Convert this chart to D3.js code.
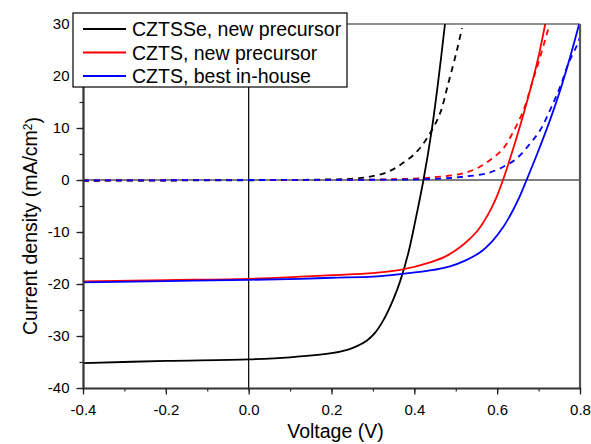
<!DOCTYPE html>
<html>
<head>
<meta charset="utf-8">
<script src="https://d3js.org/d3.v7.min.js"></script>
<style>
  body { margin: 0; background: #fff; }
  svg { display: block; font-family: "Liberation Sans", Arial, sans-serif; }
</style>
</head>
<body>
<svg id="chart" width="591" height="444"></svg>
<script>
// x ticks / y ticks
var xTicks = [-0.4, -0.2, 0.0, 0.2, 0.4, 0.6, 0.8];
var yTicks = [-40, -30, -20, -10, 0, 10, 20, 30];

// CZTSSe, new precursor (light = solid, dark = dashed)
var cztsseLightV = [-0.4, -0.2, 0, 0.1, 0.2, 0.24, 0.26, 0.285, 0.305, 0.325, 0.35, 0.366, 0.385, 0.402, 0.422, 0.442, 0.458, 0.474];
var cztsseLightJ = [-35.2, -34.8, -34.5, -34.1, -33.3, -32.6, -32.0, -30.9, -29.4, -27.0, -22.8, -19.4, -14.2, -8.0, 0, 9.6, 19.2, 30];
var cztsseDarkV = [-0.4, -0.2, 0, 0.1, 0.2, 0.253, 0.293, 0.334, 0.366, 0.406, 0.438, 0.462, 0.482, 0.503, 0.515];
var cztsseDarkJ = [-0.15, -0.1, -0.05, 0, 0.12, 0.25, 0.64, 1.5, 2.9, 5.45, 9.0, 12.8, 18.6, 25.0, 29.2];

// CZTS, new precursor
var cztsNewLightV = [-0.4, -0.2, 0, 0.124, 0.2, 0.3, 0.366, 0.44, 0.48, 0.52, 0.55, 0.567, 0.585, 0.6, 0.614, 0.631, 0.656, 0.68, 0.7, 0.716];
var cztsNewLightJ = [-19.5, -19.25, -19.0, -18.6, -18.3, -17.9, -17.3, -15.8, -14.5, -12.3, -10.0, -8.1, -5.6, -3.0, 0, 4.1, 10.6, 17.4, 23.8, 30];
var cztsNewDarkV = [-0.4, -0.2, 0, 0.2, 0.35, 0.42, 0.462, 0.511, 0.551, 0.583, 0.615, 0.639, 0.664, 0.684, 0.704, 0.726];
var cztsNewDarkJ = [-0.1, -0.05, 0, 0.02, 0.15, 0.35, 0.64, 1.15, 2.24, 3.85, 6.1, 9.3, 13.5, 18.6, 23.7, 29.8];

// CZTS, best in-house
var cztsBestLightV = [-0.4, -0.2, 0, 0.124, 0.2, 0.3, 0.366, 0.438, 0.486, 0.52, 0.559, 0.59, 0.615, 0.635, 0.652, 0.671, 0.696, 0.728, 0.752, 0.776, 0.798];
var cztsBestLightJ = [-19.7, -19.45, -19.2, -19.0, -18.8, -18.6, -18.1, -17.4, -16.6, -15.6, -13.9, -11.6, -9.0, -6.3, -3.6, 0, 4.9, 11.6, 17.2, 23.6, 30];
var cztsBestDarkV = [-0.4, -0.2, 0, 0.2, 0.4, 0.47, 0.519, 0.575, 0.615, 0.648, 0.68, 0.704, 0.728, 0.752, 0.772, 0.792, 0.8];
var cztsBestDarkJ = [-0.1, -0.05, 0, 0.02, 0.12, 0.3, 0.64, 1.28, 2.56, 4.2, 7.05, 9.6, 13.5, 17.9, 22.4, 25.8, 27.5];

var legendNames = ["CZTSSe, new precursor", "CZTS, new precursor", "CZTS, best in-house"];
var seriesColors = ["#000000", "#ff0000", "#0000ff"];

//chart geometry
var margin = {top: 24, right: 11, bottom: 56, left: 83};
var width = 591 - margin.left - margin.right;
var height = 444 - margin.top - margin.bottom;

var x = d3.scaleLinear().domain([-0.4, 0.8]).range([0, width]);
var y = d3.scaleLinear().domain([-40, 30]).range([height, 0]);

var chart = d3.select("#chart");
var g = chart.append("g")
    .attr("transform", "translate(" + margin.left + "," + margin.top + ")");

//zero lines
g.append("line")
    .attr("x1", x(0)).attr("x2", x(0))
    .attr("y1", 0).attr("y2", height)
    .attr("stroke", "#000").attr("stroke-width", 1.2);
g.append("line")
    .attr("x1", 0).attr("x2", width)
    .attr("y1", y(0)).attr("y2", y(0))
    .attr("stroke", "#000").attr("stroke-width", 1.2);

function toPoints(vs, js) {
    return vs.map(function (v, i) { return [v, js[i]]; });
}

var line = d3.line()
    .x(function (d) { return x(d[0]); })
    .y(function (d) { return y(d[1]); })
    .curve(d3.curveCatmullRom.alpha(0.5));

var curves = [
    {pts: toPoints(cztsseDarkV, cztsseDarkJ), color: seriesColors[0], dash: "6,5"},
    {pts: toPoints(cztsNewDarkV, cztsNewDarkJ), color: seriesColors[1], dash: "6,5"},
    {pts: toPoints(cztsBestDarkV, cztsBestDarkJ), color: seriesColors[2], dash: "6,5"},
    {pts: toPoints(cztsseLightV, cztsseLightJ), color: seriesColors[0], dash: null},
    {pts: toPoints(cztsNewLightV, cztsNewLightJ), color: seriesColors[1], dash: null},
    {pts: toPoints(cztsBestLightV, cztsBestLightJ), color: seriesColors[2], dash: null}
];

g.selectAll("path.curve")
    .data(curves)
    .enter()
    .append("path")
    .attr("class", "curve")
    .attr("d", function (d) { return line(d.pts); })
    .attr("fill", "none")
    .attr("stroke", function (d) { return d.color; })
    .attr("stroke-width", 1.8)
    .attr("stroke-dasharray", function (d) { return d.dash; });

//frame: top and right
g.append("line")
    .attr("x1", 0).attr("x2", width)
    .attr("y1", 0).attr("y2", 0)
    .attr("stroke", "#222").attr("stroke-width", 1.2);
g.append("line")
    .attr("x1", width).attr("x2", width)
    .attr("y1", 0).attr("y2", height)
    .attr("stroke", "#555").attr("stroke-width", 2.2);

//minor ticks
var xMinor = d3.range(-0.4, 0.81, 0.1).map(function (v) { return +v.toFixed(1); });
var yMinor = d3.range(-40, 31, 5);
g.append("g")
    .attr("transform", "translate(0," + height + ")")
    .call(d3.axisBottom(x).tickValues(xMinor).tickSize(3.5).tickFormat(""))
    .call(function (s) { s.select(".domain").remove(); })
    .selectAll("line").attr("stroke", "#222").attr("stroke-width", 1.2);
g.append("g")
    .call(d3.axisLeft(y).tickValues(yMinor).tickSize(3.5).tickFormat(""))
    .call(function (s) { s.select(".domain").remove(); })
    .selectAll("line").attr("stroke", "#222").attr("stroke-width", 1.2);

//major axes
var xAxis = g.append("g")
    .attr("transform", "translate(0," + height + ")")
    .call(d3.axisBottom(x).tickValues(xTicks).tickSize(6.5).tickSizeOuter(0).tickPadding(10)
        .tickFormat(d3.format(".1f")));
var yAxis = g.append("g")
    .call(d3.axisLeft(y).tickValues(yTicks).tickSize(6.5).tickSizeOuter(0).tickPadding(7)
        .tickFormat(d3.format("d")));

[xAxis, yAxis].forEach(function (ax) {
    ax.select(".domain").attr("stroke", "#333").attr("stroke-width", 2.2);
    ax.selectAll(".tick line").attr("stroke", "#222").attr("stroke-width", 1.3);
    ax.selectAll(".tick text")
        .attr("fill", "#000")
        .style("font-size", "15px")
        .style("font-family", "'Liberation Sans', Arial, sans-serif");
});
xAxis.selectAll(".tick text").text(function (d) { return d3.format(".1f")(d).replace("−", "-"); });
yAxis.selectAll(".tick text").text(function (d) { return String(d); });

//axis titles
chart.append("text")
    .attr("x", margin.left + width / 2 + 4)
    .attr("y", 438)
    .attr("text-anchor", "middle")
    .style("font-size", "19.5px")
    .text("Voltage (V)");

var yTitle = chart.append("text")
    .attr("transform", "translate(37,226)rotate(-90)")
    .attr("text-anchor", "middle")
    .style("font-size", "19.5px");
yTitle.append("tspan").text("Current density (mA/cm");
yTitle.append("tspan").attr("dy", "-0.45em").style("font-size", "12px").text("2");
yTitle.append("tspan").attr("dy", "0.45em").text(")");

//legend
var legend = chart.append("g").attr("class", "legend");
legend.append("rect")
    .attr("x", 73).attr("y", 13)
    .attr("width", 274).attr("height", 74)
    .attr("fill", "#fff")
    .attr("stroke", "#000").attr("stroke-width", 1.2);
var rowY = [29, 52.5, 76];
var entries = legend.selectAll("g.entry")
    .data(legendNames)
    .enter()
    .append("g")
    .attr("class", "entry")
    .attr("transform", function (d, i) { return "translate(0," + rowY[i] + ")"; });
entries.append("line")
    .attr("x1", 83).attr("x2", 126)
    .attr("stroke", function (d, i) { return seriesColors[i]; })
    .attr("stroke-width", 1.8);
entries.append("text")
    .attr("x", 132).attr("y", 7)
    .style("font-size", "19.5px")
    .text(function (d) { return d; });
</script>
</body>
</html>
